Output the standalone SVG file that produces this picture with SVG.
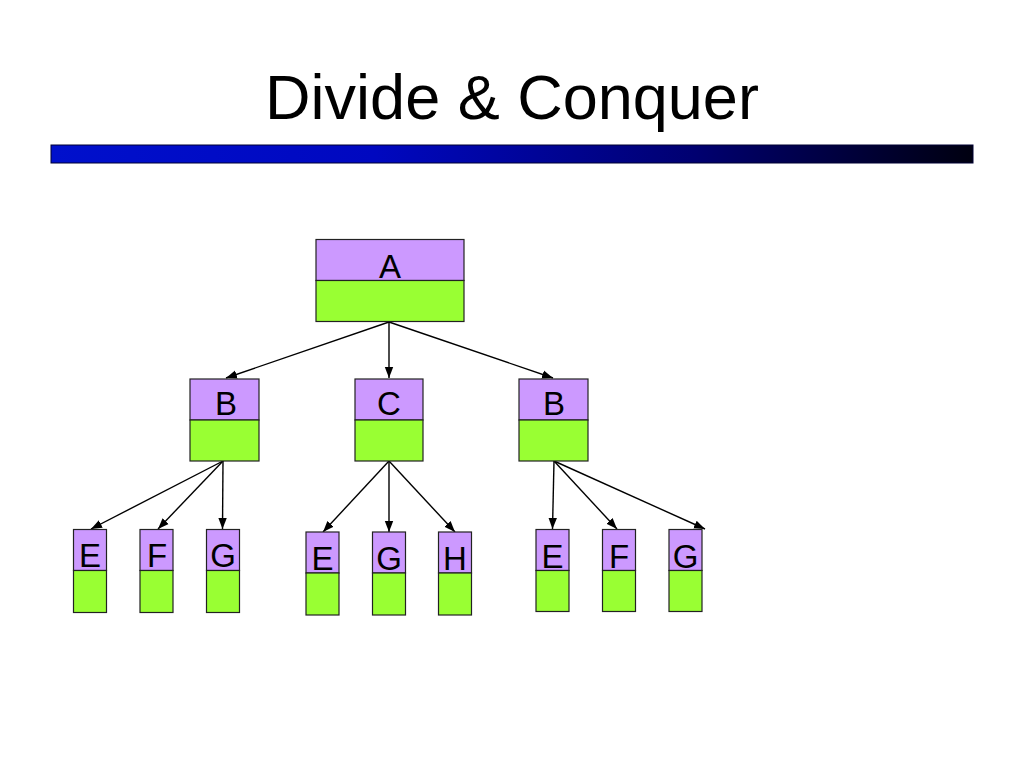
<svg xmlns="http://www.w3.org/2000/svg" width="1024" height="768" viewBox="0 0 1024 768">
<defs>
<linearGradient id="bar" x1="0" y1="0" x2="1" y2="0">
<stop offset="0" stop-color="#0010CC"/>
<stop offset="0.35" stop-color="#0008C0"/>
<stop offset="0.7" stop-color="#000070"/>
<stop offset="1" stop-color="#000010"/>
</linearGradient>
<marker id="ah" markerUnits="userSpaceOnUse" markerWidth="12" markerHeight="10" viewBox="0 0 12 10" refX="11" refY="5" orient="auto">
<path d="M0,0.8 L11,5 L0,9.2 Z" fill="#000"/>
</marker>
<style>
.top{fill:#CC99FF;stroke:#222;stroke-width:1.2}
.bot{fill:#99FF33;stroke:#222;stroke-width:1.2}
.lbl{font-family:"Liberation Sans",Arial,sans-serif;font-size:33px;fill:#000;text-anchor:middle}
.edge{stroke:#000;stroke-width:1.4;fill:none;marker-end:url(#ah)}
</style>
</defs>
<rect width="1024" height="768" fill="#fff"/>
<text x="512" y="119" font-family="Liberation Sans, Arial, sans-serif" font-size="63" text-anchor="middle" fill="#000">Divide &amp; Conquer</text>
<rect x="51" y="145" width="922" height="18" fill="url(#bar)" stroke="#000033" stroke-width="1"/>

<g id="connectors">
<line class="edge" x1="389" y1="322" x2="226" y2="378"/>
<line class="edge" x1="389" y1="322" x2="389" y2="378"/>
<line class="edge" x1="389" y1="322" x2="553" y2="378"/>
<line class="edge" x1="223" y1="461" x2="91" y2="529"/>
<line class="edge" x1="223" y1="461" x2="158" y2="529"/>
<line class="edge" x1="223" y1="461" x2="222.5" y2="529"/>
<line class="edge" x1="389" y1="461" x2="323" y2="532"/>
<line class="edge" x1="389" y1="461" x2="389" y2="532"/>
<line class="edge" x1="389" y1="461" x2="455" y2="532"/>
<line class="edge" x1="554" y1="461" x2="552.5" y2="529"/>
<line class="edge" x1="554" y1="461" x2="617" y2="529"/>
<line class="edge" x1="554" y1="461" x2="705" y2="529"/>
</g>

<g id="nodeA">
<rect class="top" x="316" y="239.5" width="148" height="41"/>
<rect class="bot" x="316" y="280.5" width="148" height="41"/>
<text class="lbl" x="390" y="278">A</text>
</g>
<g id="nodeB1">
<rect class="top" x="190" y="379" width="69" height="41"/>
<rect class="bot" x="190" y="420" width="69" height="41"/>
<text class="lbl" x="226" y="414.5">B</text>
</g>
<g id="nodeC">
<rect class="top" x="355" y="379" width="68" height="41"/>
<rect class="bot" x="355" y="420" width="68" height="41"/>
<text class="lbl" x="389" y="414.5">C</text>
</g>
<g id="nodeB2">
<rect class="top" x="519" y="379" width="69" height="41"/>
<rect class="bot" x="519" y="420" width="69" height="41"/>
<text class="lbl" x="554" y="414.5">B</text>
</g>

<g id="nodeE1">
<rect class="top" x="73.5" y="529.5" width="33" height="41"/>
<rect class="bot" x="73.5" y="570.5" width="33" height="42"/>
<text class="lbl" x="90" y="567">E</text>
</g>
<g id="nodeF1">
<rect class="top" x="140" y="529.5" width="33" height="41"/>
<rect class="bot" x="140" y="570.5" width="33" height="42"/>
<text class="lbl" x="157" y="567">F</text>
</g>
<g id="nodeG1">
<rect class="top" x="206.5" y="529.5" width="33" height="41"/>
<rect class="bot" x="206.5" y="570.5" width="33" height="42"/>
<text class="lbl" x="223" y="567">G</text>
</g>

<g id="nodeE2">
<rect class="top" x="306" y="532" width="33" height="41"/>
<rect class="bot" x="306" y="573" width="33" height="42"/>
<text class="lbl" x="322.5" y="569.5">E</text>
</g>
<g id="nodeG2">
<rect class="top" x="372.5" y="532" width="33" height="41"/>
<rect class="bot" x="372.5" y="573" width="33" height="42"/>
<text class="lbl" x="389" y="569.5">G</text>
</g>
<g id="nodeH">
<rect class="top" x="438.5" y="532" width="33" height="41"/>
<rect class="bot" x="438.5" y="573" width="33" height="42"/>
<text class="lbl" x="455" y="569.5">H</text>
</g>

<g id="nodeE3">
<rect class="top" x="536" y="529.5" width="33" height="41"/>
<rect class="bot" x="536" y="570.5" width="33" height="41"/>
<text class="lbl" x="552.5" y="567.5">E</text>
</g>
<g id="nodeF3">
<rect class="top" x="602.5" y="529.5" width="33" height="41"/>
<rect class="bot" x="602.5" y="570.5" width="33" height="41"/>
<text class="lbl" x="619" y="567.5">F</text>
</g>
<g id="nodeG3">
<rect class="top" x="669" y="529.5" width="33" height="41"/>
<rect class="bot" x="669" y="570.5" width="33" height="41"/>
<text class="lbl" x="685.5" y="567.5">G</text>
</g>
</svg>
